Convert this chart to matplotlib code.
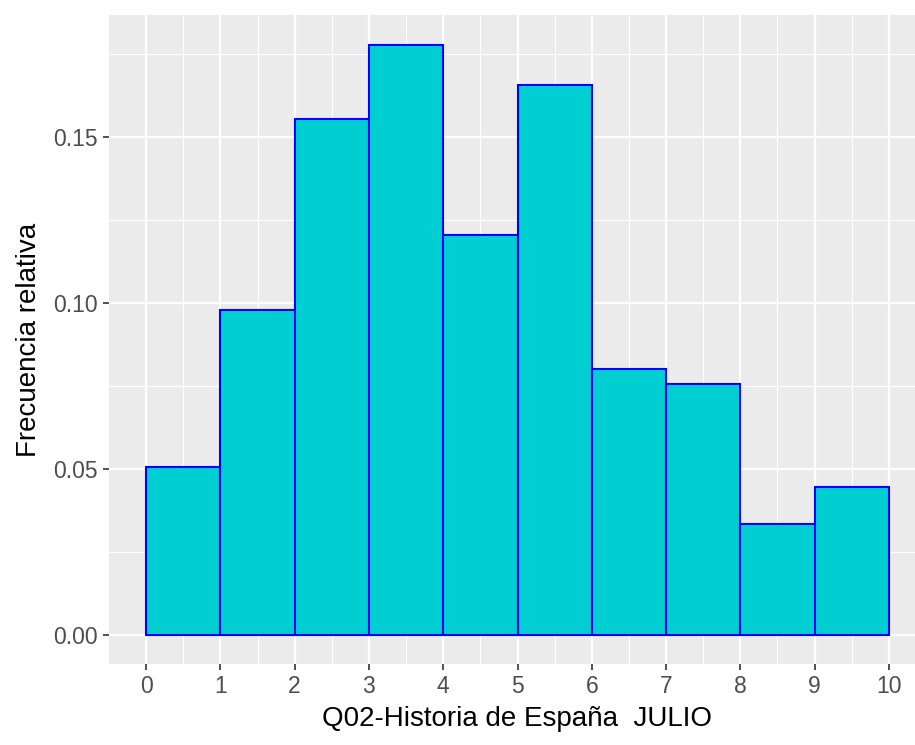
import numpy as np
import matplotlib
matplotlib.use("Agg")
import matplotlib.pyplot as plt

# histogram bins (scores 0-10) and relative frequency per bin
bin_edges = [0, 1, 2, 3, 4, 5, 6, 7, 8, 9, 10]
rel_freq = [0.0506, 0.0979, 0.1554, 0.1780, 0.1205, 0.1657, 0.0801, 0.0756, 0.0334, 0.0446]
x_ticks = [0, 1, 2, 3, 4, 5, 6, 7, 8, 9, 10]
y_ticks = [0.00, 0.05, 0.10, 0.15]
y_labels = ["0.00", "0.05", "0.10", "0.15"]

plt.rcParams["font.family"] = ["Liberation Sans", "DejaVu Sans"]

W, H = 915, 745
fig = plt.figure(figsize=(W / 100, H / 100), dpi=100)
# panel in pixels: left 109, right 926 (cut off by the image), top 15, bottom 664
ax = fig.add_axes([109 / W, 1 - 664 / H, 817 / W, 649 / H])
ax.set_facecolor("#EBEBEB")

edges = np.array(bin_edges, dtype=float)
ax.bar(edges[:-1], rel_freq, width=np.diff(edges), align="edge",
       color="#00CED1", edgecolor="#0000FF", linewidth=1.5, zorder=3)

ax.set_xlim(-0.5, 10.5)
ax.set_ylim(-0.0089, 0.1869)

ax.set_xticks(x_ticks)
ax.set_xticks(np.arange(0.5, 10, 1), minor=True)
ax.set_yticks(y_ticks)
ax.set_yticklabels(y_labels)
ax.set_yticks([0.025, 0.075, 0.125, 0.175], minor=True)

ax.grid(which="major", color="white", linewidth=1.6, zorder=0)
ax.grid(which="minor", color="white", linewidth=0.8, zorder=0)
ax.set_axisbelow(True)

for s in ax.spines.values():
    s.set_visible(False)

ax.tick_params(which="major", length=4, width=1.2, color="#333333",
               labelcolor="#4D4D4D", labelsize=16.5, pad=4)
ax.tick_params(which="minor", length=0)

ax.set_xlabel("Q02-Historia de España  JULIO", fontsize=20, color="black", labelpad=6)
ax.set_ylabel("Frecuencia relativa", fontsize=20, color="black", labelpad=8)

fig.savefig("out.png", dpi=100)
